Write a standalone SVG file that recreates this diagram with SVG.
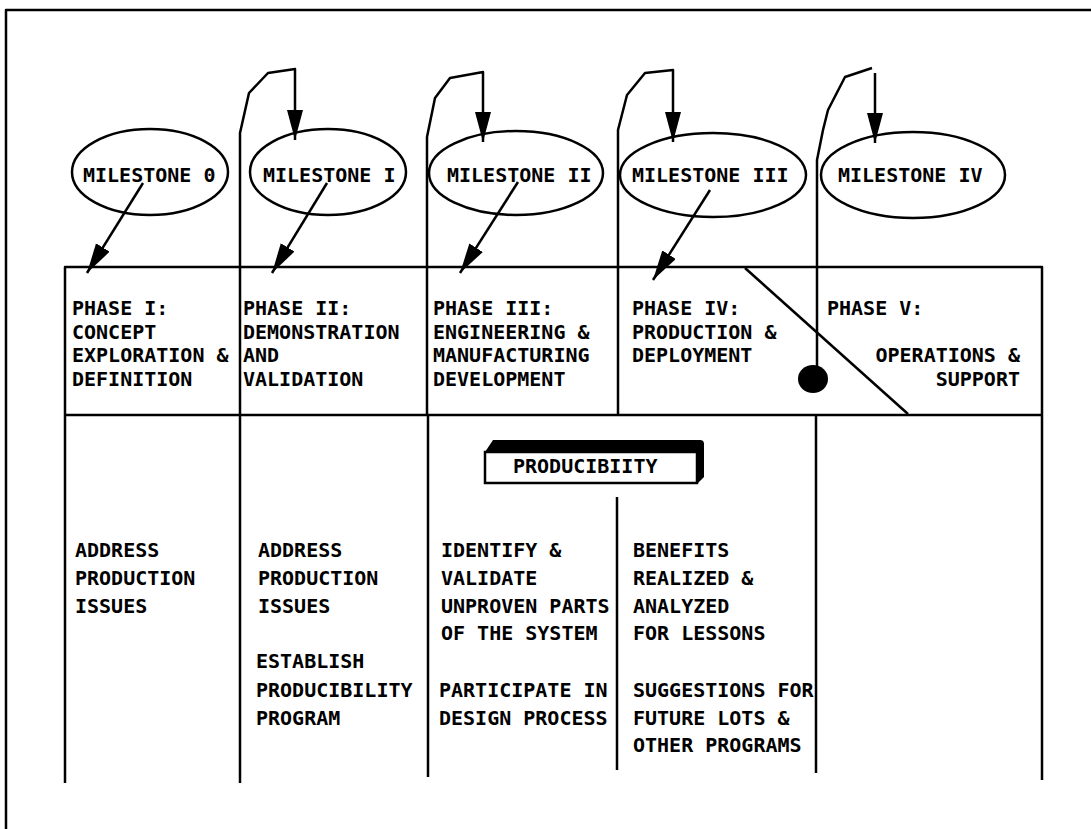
<svg xmlns="http://www.w3.org/2000/svg" width="1091" height="829" viewBox="0 0 1091 829">
<style>
.ln{fill:none;stroke:#000;stroke-width:2.5;stroke-linejoin:round}
.el{fill:none;stroke:#000;stroke-width:2.5}
.t{font-family:"DejaVu Sans Mono","Liberation Mono",monospace;font-size:20px;font-weight:bold;fill:#000}
.e{text-anchor:end}
</style>
<defs>
<marker id="ah" markerUnits="userSpaceOnUse" markerWidth="34" markerHeight="18" refX="30" refY="8" orient="auto">
<path d="M0,0 L30,8 L0,16 Z" fill="#000"/>
</marker>
</defs>
<rect width="1091" height="829" fill="#fff"/>
<g id="frame">
<path class="ln" d="M6,829 L6,10 L1091,10"/>
</g>
<g id="table">
<path class="ln" d="M65,783 L65,267 L1042,267 L1042,780"/>
<path class="ln" d="M65,415 L1042,415"/>
<path class="ln" d="M428,415 L428,777"/>
<path class="ln" d="M617,497 L617,770"/>
<path class="ln" d="M816,415 L816,773"/>
<path class="ln" d="M745,268 L908,414"/>
</g>
<g id="milestone0">
<ellipse class="el" cx="150" cy="172" rx="78" ry="43"/>
<text class="t" x="83" y="182">MILESTONE 0</text>
</g>
<g id="milestone1">
<ellipse class="el" cx="328" cy="172" rx="78" ry="43"/>
<text class="t" x="263" y="182">MILESTONE I</text>
</g>
<g id="milestone2">
<ellipse class="el" cx="516" cy="173" rx="87" ry="42"/>
<text class="t" x="447" y="182">MILESTONE II</text>
</g>
<g id="milestone3">
<ellipse class="el" cx="713" cy="175" rx="93" ry="42"/>
<text class="t" x="632" y="182">MILESTONE III</text>
</g>
<g id="milestone4">
<ellipse class="el" cx="913" cy="175" rx="92" ry="43"/>
<text class="t" x="838" y="182">MILESTONE IV</text>
</g>
<g id="phase1">
<text class="t" x="72" y="315">PHASE I:</text>
<text class="t" x="72" y="338.5">CONCEPT</text>
<text class="t" x="72" y="362">EXPLORATION &amp;</text>
<text class="t" x="72" y="385.5">DEFINITION</text>
</g>
<g id="phase2">
<text class="t" x="243" y="315">PHASE II:</text>
<text class="t" x="243" y="338.5">DEMONSTRATION</text>
<text class="t" x="243" y="362">AND</text>
<text class="t" x="243" y="385.5">VALIDATION</text>
</g>
<g id="phase3">
<text class="t" x="433" y="315">PHASE III:</text>
<text class="t" x="433" y="338.5">ENGINEERING &amp;</text>
<text class="t" x="433" y="362">MANUFACTURING</text>
<text class="t" x="433" y="385.5">DEVELOPMENT</text>
</g>
<g id="phase4">
<text class="t" x="632" y="315">PHASE IV:</text>
<text class="t" x="632" y="338.5">PRODUCTION &amp;</text>
<text class="t" x="632" y="362">DEPLOYMENT</text>
</g>
<g id="phase5">
<text class="t" x="827" y="315">PHASE V:</text>
<text class="t e" x="1020" y="362">OPERATIONS &amp;</text>
<text class="t e" x="1020" y="385.5">SUPPORT</text>
</g>
<g id="producibility">
<path d="M485,452 L493,440 L700,440 Q704,440 704,444 L704,477 L697,484 Z" fill="#000"/>
<rect x="485" y="452" width="212" height="31" fill="#fff" stroke="#000" stroke-width="2.5"/>
<text class="t" x="513" y="473">PRODUCIBIITY</text>
</g>
<g id="col1">
<text class="t" x="75" y="557">ADDRESS</text>
<text class="t" x="75" y="585">PRODUCTION</text>
<text class="t" x="75" y="613">ISSUES</text>
</g>
<g id="col2">
<text class="t" x="258" y="557">ADDRESS</text>
<text class="t" x="258" y="585">PRODUCTION</text>
<text class="t" x="258" y="613">ISSUES</text>
<text class="t" x="256" y="668">ESTABLISH</text>
<text class="t" x="256" y="697">PRODUCIBILITY</text>
<text class="t" x="256" y="725">PROGRAM</text>
</g>
<g id="col3">
<text class="t" x="441" y="557">IDENTIFY &amp;</text>
<text class="t" x="441" y="585">VALIDATE</text>
<text class="t" x="441" y="613">UNPROVEN PARTS</text>
<text class="t" x="441" y="640">OF THE SYSTEM</text>
<text class="t" x="439" y="697">PARTICIPATE IN</text>
<text class="t" x="439" y="725">DESIGN PROCESS</text>
</g>
<g id="col4">
<text class="t" x="633" y="557">BENEFITS</text>
<text class="t" x="633" y="585">REALIZED &amp;</text>
<text class="t" x="633" y="613">ANALYZED</text>
<text class="t" x="633" y="640">FOR LESSONS</text>
<text class="t" x="633" y="697">SUGGESTIONS FOR</text>
<text class="t" x="633" y="725">FUTURE LOTS &amp;</text>
<text class="t" x="633" y="752">OTHER PROGRAMS</text>
</g>
<g id="connectors">
<path class="ln" d="M143,183 L87,273" marker-end="url(#ah)"/>
<path class="ln" d="M327,183 L272,273" marker-end="url(#ah)"/>
<path class="ln" d="M518,182 L460,273" marker-end="url(#ah)"/>
<path class="ln" d="M710,190 L653,280" marker-end="url(#ah)"/>
<path class="ln" d="M240,783 L240,133 L249,93 L268,73 L295,69 L295,140" marker-end="url(#ah)"/>
<path class="ln" d="M427,415 L427,137 L435,98 L450,78 L483,72 L483,142" marker-end="url(#ah)"/>
<path class="ln" d="M618,415 L618,130 L627,95 L645,73 L673,70 L673,142" marker-end="url(#ah)"/>
<path class="ln" d="M817,367 L817,160 L823,130 L828,110 L845,77 L872,68"/>
<path class="ln" d="M875,73 L875,143" marker-end="url(#ah)"/>
<ellipse cx="813" cy="379" rx="15" ry="14" fill="#000"/>
</g>
</svg>
